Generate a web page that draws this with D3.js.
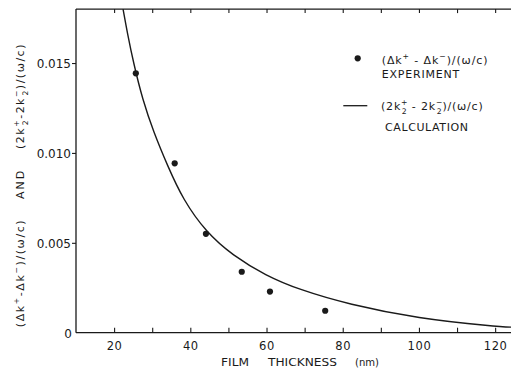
<!DOCTYPE html>
<html><head><meta charset="utf-8">
<script src="https://cdn.jsdelivr.net/npm/d3@7"></script>
<style>
html,body{margin:0;padding:0;background:#fff;}
svg{display:block;font-family:"DejaVu Sans",sans-serif;}
</style></head>
<body><svg id="c" width="511" height="373"></svg>
<script>
// ---- data ----
const expThickness = [25.7, 35.9, 44.1, 53.5, 60.9, 75.4];
const expValue     = [0.01443, 0.00942, 0.0055, 0.00339, 0.00229, 0.00122];
const calcThickness = [22.35, 23.5, 25.1, 27.5, 30.3, 34.1, 38.1, 44.1, 51.1, 59.8, 68.5, 81.5, 99.8, 119.9, 125];
const calcValue     = [0.0180, 0.01665, 0.0150, 0.01295, 0.0112, 0.00925, 0.00740, 0.0056, 0.0043, 0.00318, 0.00240, 0.00158, 0.00079, 0.00035, 0.0003];
const xTicks = [20, 30, 40, 50, 60, 70, 80, 90, 100, 110, 120];
const xTickLabels = ["20", "40", "60", "80", "100", "120"];
const yTicks = [0, 0.005, 0.010, 0.015];
const yTickLabels = ["0", "0.005", "0.010", "0.015"];

const svg = d3.select("#c");
const x = d3.scaleLinear().domain([10, 125]).range([76, 514.2]);
const y = d3.scaleLinear().domain([0, 0.018]).range([332.7, 9.1]);
const ink = "#1a1a1a";

// frame lines
const g = svg.append("g");
g.append("line").attr("x1", x(10)).attr("x2", 511).attr("y1", y(0)).attr("y2", y(0)).attr("stroke", ink).attr("stroke-width", 1.3);
g.append("line").attr("x1", x(10)).attr("x2", 511).attr("y1", y(0.018)).attr("y2", y(0.018)).attr("stroke", ink).attr("stroke-width", 1.3);
g.append("line").attr("x1", x(10)).attr("x2", x(10)).attr("y1", y(0)).attr("y2", y(0.018)).attr("stroke", ink).attr("stroke-width", 1.3);

// bottom axis (inward ticks)
const xb = svg.append("g").attr("transform", `translate(0,${y(0)})`)
  .call(d3.axisBottom(x).tickValues(xTicks).tickSizeInner(-5).tickSizeOuter(0).tickPadding(9)
    .tickFormat(d => xTickLabels.includes(String(d)) ? String(d) : ""));
xb.select(".domain").remove();
xb.selectAll("line").attr("stroke", ink).attr("stroke-width", 1.1);
xb.selectAll("text").attr("font-size", 11.5).attr("fill", ink).attr("font-family", "DejaVu Sans").attr("letter-spacing", 0.6);

// top axis (inward ticks)
const xt = svg.append("g").attr("transform", `translate(0,${y(0.018)})`)
  .call(d3.axisTop(x).tickValues(xTicks).tickSizeInner(-4).tickSizeOuter(0).tickFormat(""));
xt.select(".domain").remove();
xt.selectAll("line").attr("stroke", ink).attr("stroke-width", 1.1);

// left axis (outward ticks)
const yl = svg.append("g").attr("transform", `translate(${x(10)},0)`)
  .call(d3.axisLeft(y).tickValues(yTicks).tickSizeInner(4).tickSizeOuter(0).tickPadding(1)
    .tickFormat((d, i) => yTickLabels[i]));
yl.select(".domain").remove();
yl.selectAll("line").attr("stroke", ink).attr("stroke-width", 1.1);
yl.selectAll(".tick").filter(d => d === 0).select("line").remove();
yl.selectAll("text").attr("font-size", 12).attr("fill", ink).attr("font-family", "DejaVu Sans").attr("dy", "0.36em");
yl.selectAll(".tick").filter(d => d === 0).select("text").attr("x", -4);

// calculation curve
const calc = calcThickness.map((t, i) => [t, calcValue[i]]);
svg.append("path").datum(calc)
  .attr("d", d3.line().x(d => x(d[0])).y(d => y(d[1])).curve(d3.curveBasis))
  .attr("fill", "none").attr("stroke", ink).attr("stroke-width", 1.4);

// experiment dots
const exp = expThickness.map((t, i) => [t, expValue[i]]);
svg.append("g").selectAll("circle").data(exp).join("circle")
  .attr("cx", d => x(d[0])).attr("cy", d => y(d[1])).attr("r", 3.1).attr("fill", ink);

// helper for math text with stacked sup/sub
function mathText(sel, parts, size) {
  let pendingDy = 0;
  const small = size * 0.7;
  parts.forEach(p => {
    if (typeof p === "string") {
      const t = sel.append("tspan").text(p);
      if (pendingDy) t.attr("dy", pendingDy);
      pendingDy = 0;
      return;
    }
    const up = -size * 0.42 + pendingDy;
    sel.append("tspan").attr("font-size", small).attr("dy", up).text(p.sup);
    if (p.sub) {
      sel.append("tspan").attr("font-size", small).attr("dx", -small * 0.84).attr("dy", size * 0.8).text(p.sub);
      pendingDy = -size * 0.38;
    } else {
      pendingDy = size * 0.42;
    }
  });
}

// legend
const fs = 11;
const lg = svg.append("g").attr("fill", ink).attr("font-size", fs);
lg.append("circle").attr("cx", 357.7).attr("cy", 58.3).attr("r", 3.1).attr("fill", ink);
const l1 = lg.append("text").attr("x", 381.7).attr("y", 64).attr("letter-spacing", 0.9);
mathText(l1, ["(Δk", {sup: "+"}, " - Δk", {sup: "−"}, ")/(ω/c)"], fs);
lg.append("text").attr("x", 381.7).attr("y", 78).attr("letter-spacing", 0.8).text("EXPERIMENT");
lg.append("line").attr("x1", 343.3).attr("x2", 367.3).attr("y1", 105.7).attr("y2", 105.7).attr("stroke", ink).attr("stroke-width", 1.3);
const l2 = lg.append("text").attr("x", 381).attr("y", 110).attr("letter-spacing", 0.8);
mathText(l2, ["(2k", {sup: "+", sub: "2"}, " - 2k", {sup: "−", sub: "2"}, ")/(ω/c)"], fs);
lg.append("text").attr("x", 385).attr("y", 131).attr("letter-spacing", 0.6).text("CALCULATION");

// x-axis title
const xtitle = svg.append("g").attr("fill", ink).attr("font-size", 10.5);
[["FILM", 221, 28], ["THICKNESS", 268, 69], ["(nm)", 355, 24]].forEach(([s, px, w]) =>
  xtitle.append("text").attr("x", px).attr("y", 366).attr("textLength", w).attr("lengthAdjust", "spacingAndGlyphs").text(s));

// y-axis title (rotated)
const yt = svg.append("g").attr("fill", ink).attr("font-size", fs);
const ya = yt.append("text").attr("transform", "translate(24,273) rotate(-90)").attr("text-anchor", "middle").attr("letter-spacing", 1.6);
mathText(ya, ["(Δk", {sup: "+"}, "-Δk", {sup: "−"}, ")/(ω/c)"], fs);
yt.append("text").attr("transform", "translate(24,184) rotate(-90)").attr("text-anchor", "middle").attr("letter-spacing", 2).text("AND");
const yb = yt.append("text").attr("transform", "translate(24,96) rotate(-90)").attr("text-anchor", "middle").attr("letter-spacing", 1.5);
mathText(yb, ["(2k", {sup: "+", sub: "2"}, "-2k", {sup: "−", sub: "2"}, ")/(ω/c)"], fs);
</script></body></html>
